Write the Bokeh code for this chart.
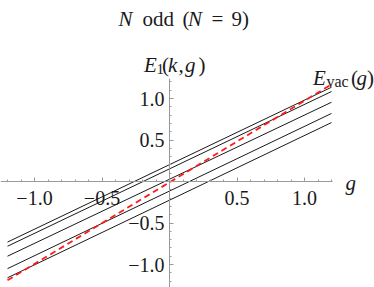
from bokeh.plotting import figure
from bokeh.models import Range1d, FixedTicker, Label
from bokeh.embed import file_html
from bokeh.resources import INLINE

# ---- data ----
g_ends = [-1.2, 1.2]
E1_at_left = [-0.73, -0.78, -0.90, -1.05, -1.16]
E1_at_right = [1.136, 1.084, 0.955, 0.82, 0.71]
Evac = [-1.19, 1.17]
major_ticks = [-1.0, -0.5, 0.5, 1.0]
tick_labels = ["\u22121.0", "\u22120.5", "0.5", "1.0"]
minor_ticks = [-1.2, -1.1, -0.9, -0.8, -0.7, -0.6, -0.4, -0.3, -0.2, -0.1,
               0.1, 0.2, 0.3, 0.4, 0.6, 0.7, 0.8, 0.9, 1.1, 1.2]

# ---- layout helpers (page pixels -> data) ----
OX, OY, SX, SY = 169.0, 181.0, 135.0, 83.0
def gx(px):
    return (px - OX) / SX
def ey(py):
    return (OY - py) / SY

W, H = 374, 287
p = figure(width=W, height=H, output_backend="svg", toolbar_location=None,
           x_range=Range1d(gx(0), gx(W)), y_range=Range1d(ey(H), ey(0)),
           min_border_left=0, min_border_right=0, min_border_top=0,
           min_border_bottom=0)
p.outline_line_color = None
p.grid.visible = False
p.background_fill_color = "white"
p.border_fill_color = "white"

for ax in (p.xaxis[0], p.yaxis[0]):
    ax.fixed_location = 0
    ax.ticker = FixedTicker(ticks=major_ticks, minor_ticks=minor_ticks)
    ax.major_label_overrides = {t: s for t, s in zip(major_ticks, tick_labels)}
    ax.axis_line_color = "#9a9a9a"
    ax.major_tick_line_color = "#9a9a9a"
    ax.minor_tick_line_color = "#9a9a9a"
    ax.major_tick_in = 4
    ax.major_tick_out = 0
    ax.minor_tick_in = 2
    ax.minor_tick_out = 0
    ax.major_label_text_font = "Liberation Serif"
    ax.major_label_text_font_size = "20px"
    ax.major_label_text_color = "#1a1a1a"
p.xaxis[0].bounds = (gx(0), gx(332))
p.yaxis[0].bounds = (ey(H), ey(78))
p.xaxis[0].major_label_standoff = 9
p.yaxis[0].major_label_standoff = 5

for a, b in zip(E1_at_left, E1_at_right):
    p.line(g_ends, [a, b], line_color="#1a1a1a", line_width=1)
p.line(g_ends, Evac, line_color="#ff1a1a", line_width=1.8, line_dash="6 4")

def put(text, px, py, size=21, italic=False):
    p.add_layout(Label(x=gx(px), y=ey(py), text=text,
                       text_font="Liberation Serif", text_font_size=f"{size}px",
                       text_font_style="italic" if italic else "normal",
                       text_baseline="alphabetic", text_align="left",
                       text_color="#1a1a1a"))

# title: N odd (N = 9)
put("N", 118, 18.5, italic=True)
put("odd", 142, 18.5)
put("(", 182, 18.5)
put("N", 187.5, 18.5, italic=True)
put("=", 211, 18.5)
put("9", 231, 18.5)
put(")", 241.5, 18.5)

# E_1(k, g)
put("E", 143.5, 64.5, italic=True)
put("1", 156, 68.5, size=15)
put("(", 161.5, 64.5)
put("k", 167.5, 64.5, italic=True)
put(",", 178, 64.5)
put("g", 184.5, 64.5, italic=True)
put(")", 198, 64.5)

# E_vac(g)
put("E", 312.5, 77.3, italic=True)
put("vac", 326, 80.5, size=16)
put("(", 350.5, 77.3)
put("g", 356, 77.3, italic=True)
put(")", 366.5, 77.3)

# g axis label
put("g", 345, 182.5, italic=True)

open("out.html", "w").write(file_html(p, INLINE))
